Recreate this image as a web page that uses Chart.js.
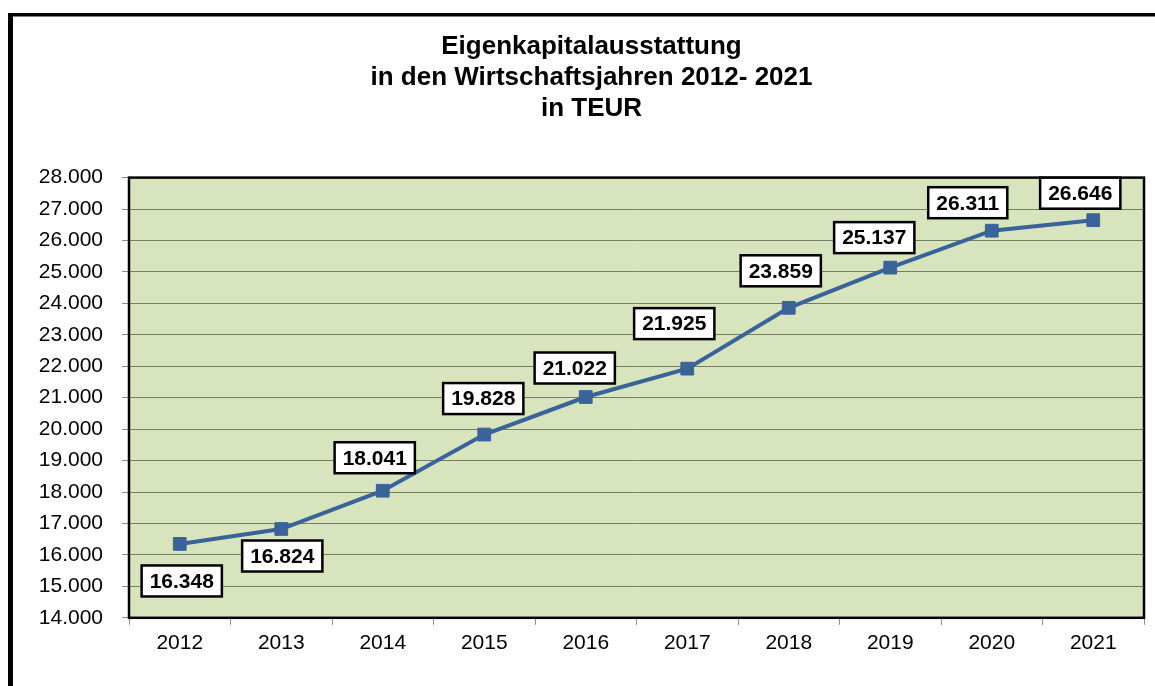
<!DOCTYPE html>
<html>
<head>
<meta charset="utf-8">
<script src="https://cdn.jsdelivr.net/npm/chart.js@4/dist/chart.umd.min.js"></script>
<style>
    html, body { margin: 0; padding: 0; background: #ffffff; }
    #wrap { width: 1155px; height: 686px; position: relative; }
</style>
</head>
<body>
<div id="wrap"><canvas id="grafico"></canvas></div>
<script>
const jahre = ['2012', '2013', '2014', '2015', '2016', '2017', '2018', '2019', '2020', '2021'];
const eigenkapital = [16348, 16824, 18041, 19828, 21022, 21925, 23859, 25137, 26311, 26646];
const titelZeilen = ['Eigenkapitalausstattung', 'in den Wirtschaftsjahren 2012- 2021', 'in TEUR'];
const yMin = 14000;
const yMax = 28000;
const yStep = 1000;

// 16348 -> "16.348"
function formatZahl(v) {
    return String(Math.round(v)).replace(/\B(?=(\d{3})+(?!\d))/g, '.');
}

// Rahmen + gruener Hintergrund der Zeichenflaeche
const hintergrund = {
    id: 'hintergrund',
    beforeDraw(chart) {
        const ctx = chart.ctx;
        const a = chart.chartArea;
        ctx.save();
        ctx.fillStyle = '#000000';
        ctx.fillRect(8, 13, 5, 686);
        ctx.fillRect(8, 13, 1147, 3.5);
        ctx.fillStyle = '#d7e4bd';
        ctx.fillRect(a.left, a.top, a.right - a.left, a.bottom - a.top);
        ctx.restore();
    },
    afterDatasetsDraw(chart) {
        const ctx = chart.ctx;
        const a = chart.chartArea;
        ctx.save();
        ctx.strokeStyle = '#000000';
        ctx.lineWidth = 2.5;
        ctx.strokeRect(a.left, a.top, a.right - a.left, a.bottom - a.top);
        ctx.restore();
    }
};

// Wertebeschriftung in weissen Kaestchen
const wertKaesten = {
    id: 'wertKaesten',
    afterDraw(chart, args, opts) {
        const ctx = chart.ctx;
        const meta = chart.getDatasetMeta(0);
        ctx.save();
        ctx.font = 'bold 21px "Liberation Sans", Arial, sans-serif';
        ctx.textAlign = 'center';
        ctx.textBaseline = 'middle';
        meta.data.forEach(function (pt, i) {
            const text = formatZahl(chart.data.datasets[0].data[i]);
            const off = opts.versatz[i];
            const cx = pt.x + off[0];
            const cy = pt.y + off[1];
            const w = ctx.measureText(text).width + 16;
            const h = 31;
            ctx.fillStyle = '#ffffff';
            ctx.fillRect(cx - w / 2, cy - h / 2, w, h);
            ctx.strokeStyle = '#000000';
            ctx.lineWidth = 2.5;
            ctx.strokeRect(cx - w / 2, cy - h / 2, w, h);
            ctx.fillStyle = '#000000';
            ctx.fillText(text, cx, cy + 1);
        });
        ctx.restore();
    }
};

const ctx = document.getElementById('grafico').getContext('2d');
const myChart = new Chart(ctx, {
    type: 'line',
    data: {
        labels: jahre,
        datasets: [{
            label: 'Eigenkapital',
            data: eigenkapital,
            borderColor: '#3a6399',
            backgroundColor: '#3a6399',
            borderWidth: 4,
            pointStyle: 'rect',
            pointRadius: 9,
            pointHoverRadius: 9,
            pointBorderWidth: 1,
            tension: 0
        }]
    },
    options: {
        responsive: true,
        maintainAspectRatio: false,
        animation: false,
        layout: {
            padding: { left: 39, right: 11, top: 16, bottom: 24 }
        },
        plugins: {
            legend: { display: false },
            tooltip: { enabled: false },
            title: {
                display: true,
                text: titelZeilen,
                color: '#000000',
                font: { family: '"Liberation Sans", Arial, sans-serif', size: 26, weight: 'bold', lineHeight: 1.2 },
                padding: { top: 15, bottom: 53 }
            },
            wertKaesten: {
                versatz: [[2, 37], [1, 27], [-8, -33], [-1, -36], [-11, -29], [-13, -45], [-8, -37], [-16, -30], [-24, -28], [-13, -27]]
            }
        },
        scales: {
            x: {
                offset: true,
                grid: {
                    offset: true,
                    drawOnChartArea: false,
                    drawTicks: true,
                    tickLength: 7,
                    tickColor: '#8c8c8c'
                },
                border: { display: false },
                ticks: {
                    color: '#000000',
                    padding: 6,
                    maxRotation: 0,
                    font: { family: '"Liberation Sans", Arial, sans-serif', size: 21 }
                }
            },
            y: {
                min: yMin,
                max: yMax,
                afterFit: function (scale) { scale.width = 90; },
                grid: {
                    color: '#757f62',
                    lineWidth: 1,
                    drawTicks: true,
                    tickLength: 7,
                    tickColor: '#8c8c8c'
                },
                border: { display: false },
                ticks: {
                    stepSize: yStep,
                    color: '#000000',
                    padding: 19,
                    font: { family: '"Liberation Sans", Arial, sans-serif', size: 21 },
                    callback: function (v) { return formatZahl(v); }
                }
            }
        }
    },
    plugins: [hintergrund, wertKaesten]
});
</script>
</body>
</html>
